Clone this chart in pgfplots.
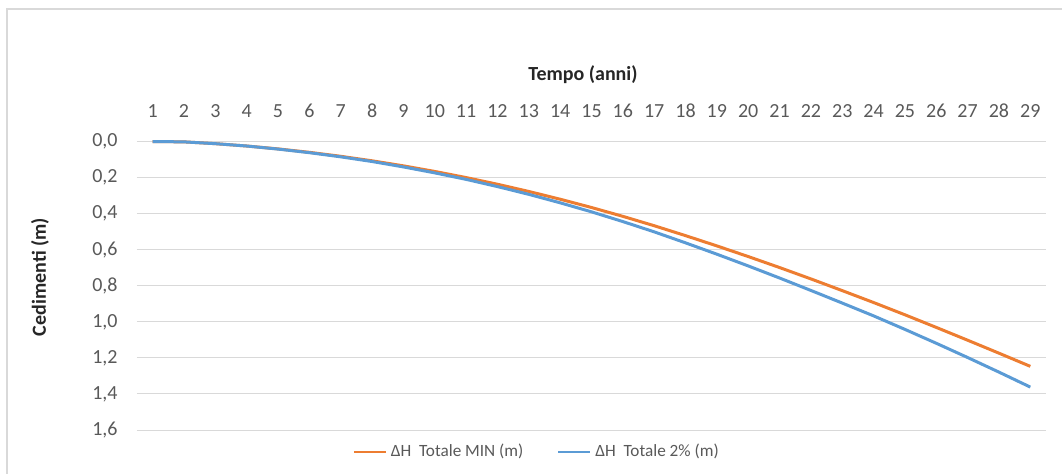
\documentclass[border=0pt]{standalone}
\usepackage{fontspec}
\setmainfont{Carlito}
\usepackage{pgfplots}
\pgfplotsset{compat=1.18}
\definecolor{xlorange}{HTML}{ED7D31}
\definecolor{xlblue}{HTML}{5B9BD5}
\definecolor{xlgrid}{HTML}{D9D9D9}
\definecolor{xltext}{HTML}{595959}
\definecolor{xltitle}{HTML}{262626}
\begin{document}
\begin{tikzpicture}[x=0.5pt,y=0.5pt]
\path[use as bounding box] (0,0) rectangle (1062,473);
\draw[xlgrid, line width=0.6pt] (7,-20) -- (7,464) -- (1080,464);
\begin{axis}[
  at={(68.5pt,21.5pt)}, anchor=south west,
  scale only axis, width=454.5pt, height=144.25pt,
  xmin=0.5, xmax=29.5, ymin=0, ymax=1.6, y dir=reverse,
  xtick={1,...,29},
  xticklabel pos=upper,
  ytick={0,0.2,0.4,0.6,0.8,1.0,1.2,1.4,1.6},
  yticklabel style={/pgf/number format/fixed, /pgf/number format/fixed zerofill, /pgf/number format/precision=1, /pgf/number format/use comma, /pgf/number format/assume math mode=true,
    anchor=east, inner sep=0pt, xshift=-9.5pt},
  xticklabel style={/pgf/number format/assume math mode=true, anchor=south, inner sep=0pt, yshift=11.8pt},
  ticklabel style={font=\fontsize{10}{12}\selectfont, text=xltext},
  major tick length=0pt,
  axis line style={draw=none},
  tick style={draw=none},
  ymajorgrids, grid style={xlgrid, line width=0.5pt},
  legend columns=2,
  legend style={at={(0.441,-0.076)}, anchor=center, draw=none, fill=none,
    font=\fontsize{8.6}{10}\selectfont, text=xltext,
    /tikz/every even column/.append style={column sep=15pt}},
  legend image code/.code={\draw[#1, line width=1pt] (0pt,0pt) -- (16pt,0pt);},
  clip=false,
]
\addplot[xlorange, line width=1.5pt] coordinates {
(1,0.000) (2,0.002) (3,0.012) (4,0.025) (5,0.041) (6,0.060) (7,0.082) (8,0.107)
(9,0.135) (10,0.166) (11,0.200) (12,0.237) (13,0.277) (14,0.320) (15,0.366)
(16,0.415) (17,0.467) (18,0.522) (19,0.579) (20,0.638) (21,0.699) (22,0.762)
(23,0.827) (24,0.893) (25,0.961) (26,1.031) (27,1.102) (28,1.174) (29,1.247)
};
\addlegendentry{ΔH~ Totale MIN (m)}
\addplot[xlblue, line width=1.5pt] coordinates {
(1,0.000) (2,0.002) (3,0.012) (4,0.025) (5,0.042) (6,0.062) (7,0.085) (8,0.111)
(9,0.141) (10,0.174) (11,0.210) (12,0.250) (13,0.293) (14,0.340) (15,0.390)
(16,0.444) (17,0.501) (18,0.562) (19,0.625) (20,0.690) (21,0.757) (22,0.826)
(23,0.896) (24,0.967) (25,1.042) (26,1.119) (27,1.198) (28,1.279) (29,1.362)
};
\addlegendentry{ΔH~ Totale 2\% (m)}
\end{axis}
\node[font=\fontsize{10}{12}\selectfont\bfseries, text=xltitle] at (583,398) {Tempo (anni)};
\node[font=\fontsize{10}{12}\selectfont\bfseries, text=xltitle, rotate=90] at (40,196) {Cedimenti (m)};
\end{tikzpicture}
\end{document}
